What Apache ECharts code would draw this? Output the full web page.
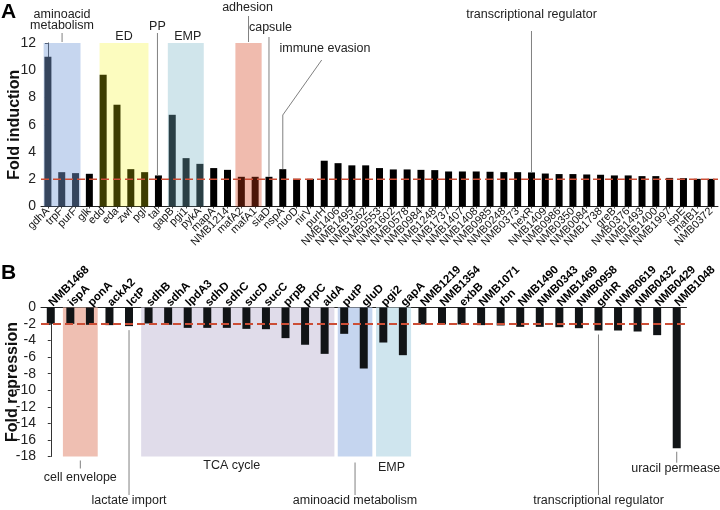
<!DOCTYPE html>
<html><head><meta charset="utf-8">
<script src="https://cdn.jsdelivr.net/npm/echarts@6/dist/echarts.min.js"></script>
<style>html,body{margin:0;padding:0;background:#fff}#c{width:720px;height:510px}</style>
</head><body><div id="c"></div>
<script>
// ---------------- DATA ----------------
const catsA = ['gdhA','trpF','purF','glk','edd','eda','zwf','pgl','tal','gapB','pgi1','pykA','mapA','NMB1214','mafA2','mafA1','siaD','nspA','nuoD','nirV','purH','NMB1406','NMB1495','NMB1362','NMB0553','NMB1602','NMB0578','NMB0984','NMB1248','NMB1737','NMB1407','NMB1408','NMB0985','NMB0248','NMB0373','hexR','NMB1409','NMB0986','NMB0350','NMB0084','NMB1738','greB','NMB0376','NMB1493','NMB1400','NMB1997','ispE','mafB1','NMB0372'];
const valsA = [11.0,2.52,2.45,2.4,9.67,7.47,2.74,2.52,2.28,6.73,3.55,3.13,2.82,2.69,2.18,2.18,2.18,2.74,2.03,2.03,3.36,3.18,3.02,3.02,2.82,2.72,2.72,2.69,2.67,2.57,2.57,2.57,2.55,2.52,2.52,2.5,2.42,2.38,2.38,2.35,2.33,2.28,2.28,2.23,2.23,2.1,2.08,2.03,2.03];
const catsB = ['NMB1468','ispA','ponA','ackA2','lctP','sdhB','sdhA','lpdA3','sdhD','sdhC','sucD','sucC','prpB','prpC','aldA','putP','gluD','pgi2','gapA','NMB1219','NMB1354','exbB','NMB1071','rbn','NMB1490','NMB0343','NMB1469','NMB0958','gdhR','NMB0619','NMB0432','NMB0429','NMB1048'];
const valsB = [-1.97,-1.97,-2.09,-2.13,-2.25,-1.93,-2.09,-2.46,-2.46,-2.46,-2.58,-2.62,-3.7,-4.5,-5.6,-3.18,-7.37,-4.23,-5.76,-2.05,-2.05,-2.05,-2.13,-2.17,-2.34,-2.34,-2.38,-2.5,-2.78,-2.78,-2.9,-3.34,-17.0];
const ticksA = [0,2,4,6,8,10,12];
const ticksB = [-18,-16,-14,-12,-10,-8,-6,-4,-2,0];
const thresholdA = 2;
const thresholdB = -2;
// functional groups: [label, first gene, last gene]
const groupsA = [['aminoacid\nmetabolism','gdhA','purF'],['ED','edd','pgl'],['EMP','gapB','pykA'],['adhesion','mafA2','mafA1']];
const groupsB = [['cell envelope','ispA','ponA'],['TCA cycle','sdhB','aldA'],['aminoacid metabolism','putP','gluD'],['EMP','pgi2','gapA']];
// single-gene callouts: [label, gene]
const calloutsA = [['PP','tal'],['capsule','siaD'],['immune evasion','nspA'],['transcriptional regulator','hexR']];
const calloutsB = [['lactate import','lctP'],['transcriptional regulator','gdhR'],['uracil permease','NMB1048']];

// ---------------- STYLE / LAYOUT ----------------
const FONT = '"Liberation Sans", Arial, Helvetica, sans-serif';
const fillsA = ['rgba(123,160,219,0.43)','rgba(244,244,0,0.25)','rgba(120,180,197,0.35)','rgba(211,60,23,0.35)'];
const padsA = [[0.31,0.36],[0.26,0.28],[0.32,0.28],[0.43,0.47]];
const fillsB = ['#efbfb2','#e0dcea','#c5d5ef','#cfe5ee'];
const padsB = [[0.38,0.40],[0.38,0.50],[0.33,0.44],[0.37,0.42]];
const dashColor = '#cc4e36';
const leadColor = '#808080';

const yMinA = ticksA[0], yMaxA = ticksA[ticksA.length-1];
const yMinB = ticksB[0], yMaxB = ticksB[ticksB.length-1];

const regionsA = groupsA.map((g,i)=>[catsA.indexOf(g[1])-padsA[i][0], catsA.indexOf(g[2])+padsA[i][1]]);
const regionsB = groupsB.map((g,i)=>[catsB.indexOf(g[1])-padsB[i][0], catsB.indexOf(g[2])+padsB[i][1]]);

function regionRenderer(yTop, yBot, fills){
  return function(params, api){
    const p0 = api.coord([api.value(0), yTop]);
    const p1 = api.coord([api.value(1), yBot]);
    return {type:'rect', shape:{x:p0[0], y:p0[1], width:p1[0]-p0[0], height:p1[1]-p0[1]}, style:{fill:fills[params.dataIndex]}};
  };
}

const yAxisCommon = {
  type:'value', splitLine:{show:false},
  axisLine:{show:true, lineStyle:{color:'#333', width:1}},
  axisTick:{show:true, length:3, lineStyle:{color:'#333'}},
  axisLabel:{fontSize:14, color:'#222', margin:5, fontFamily:FONT},
  nameLocation:'middle', nameRotate:90, nameMoveOverlap:false,
  nameTextStyle:{fontSize:16, fontWeight:'bold', color:'#111', fontFamily:FONT}
};

const option = {
  animation:false,
  backgroundColor:'#fff',
  textStyle:{fontFamily:FONT},
  grid:[
    {left:41, top:43, width:677, height:163.5, containLabel:false, outerBoundsMode:'none'},
    {left:41, top:307.5, width:645.5, height:149, containLabel:false, outerBoundsMode:'none'}
  ],
  xAxis:[
    {type:'category', gridIndex:0, data:catsA, position:'bottom',
     axisLine:{show:true, onZero:false, lineStyle:{color:'#222', width:1}},
     axisTick:{show:true, alignWithLabel:true, length:2, lineStyle:{color:'#444'}},
     axisLabel:{interval:0, rotate:45, fontSize:11, color:'#111', margin:3, hideOverlap:false, fontFamily:FONT}},
    {type:'category', gridIndex:1, data:catsB, position:'top',
     axisLine:{show:true, onZero:false, lineStyle:{color:'#222', width:1}},
     axisTick:{show:false},
     axisLabel:{interval:0, rotate:-45, align:'left', verticalAlign:'middle', fontSize:11.5, fontWeight:'bold', color:'#000', margin:3, hideOverlap:false, fontFamily:FONT}},
    {type:'value', gridIndex:0, min:-0.5, max:catsA.length-0.5, show:false},
    {type:'value', gridIndex:1, min:-0.5, max:catsB.length-0.5, show:false}
  ],
  yAxis:[
    Object.assign({}, yAxisCommon, {gridIndex:0, min:yMinA, max:yMaxA, interval:2, name:'Fold induction', nameGap:18}),
    Object.assign({}, yAxisCommon, {gridIndex:1, min:yMinB, max:yMaxB, interval:2, name:'Fold repression', nameGap:20})
  ],
  series:[
    {type:'bar', xAxisIndex:0, yAxisIndex:0, data:valsA, barWidth:7, itemStyle:{color:'#000'}, z:2, silent:true},
    {type:'custom', xAxisIndex:2, yAxisIndex:0, data:regionsA, renderItem:regionRenderer(yMaxA, yMinA, fillsA), z:3, clip:false, silent:true},
    {type:'line', xAxisIndex:2, yAxisIndex:0, data:[[-0.5,thresholdA],[catsA.length-0.5,thresholdA]], symbol:'none', z:5, silent:true,
     lineStyle:{color:dashColor, width:1.5, type:[8,4]}},
    {type:'custom', xAxisIndex:3, yAxisIndex:1, data:regionsB, renderItem:regionRenderer(yMaxB, yMinB, fillsB), z:1, clip:false, silent:true},
    {type:'bar', xAxisIndex:1, yAxisIndex:1, data:valsB, barWidth:8, itemStyle:{color:'#111416'}, z:2, silent:true},
    {type:'line', xAxisIndex:3, yAxisIndex:1, data:[[-0.5,thresholdB],[catsB.length-0.5,thresholdB]], symbol:'none', z:5, silent:true,
     lineStyle:{color:dashColor, width:2, type:[8,4]}}
  ]
};

const chart = echarts.init(document.getElementById('c'), null, {renderer:'canvas'});
chart.setOption(option);

// ---------------- ANNOTATIONS ----------------
const g = [];
function txt(s, x, y, extra){
  g.push(Object.assign({type:'text', x:x, y:y, silent:true, z:10,
    style:{text:s, fontSize:12.5, fontFamily:FONT, fill:'#222', align:'center', verticalAlign:'middle', lineHeight:10.5}}, extra||{}));
}
function ln(x1,y1,x2,y2){
  g.push({type:'line', silent:true, z:10, shape:{x1:x1,y1:y1,x2:x2,y2:y2}, style:{stroke:leadColor, lineWidth:1}});
}
const pA = (xi, v) => chart.convertToPixel({xAxisIndex:0, yAxisIndex:0}, [xi, v]);
const pB = (xi, v) => chart.convertToPixel({xAxisIndex:1, yAxisIndex:1}, [xi, v]);
const rA = (i) => chart.convertToPixel({xAxisIndex:2, yAxisIndex:0}, [(regionsA[i][0]+regionsA[i][1])/2, yMaxA]);
const rB = (i) => chart.convertToPixel({xAxisIndex:3, yAxisIndex:1}, [(regionsB[i][0]+regionsB[i][1])/2, yMinB]);

// Panel A group labels
{ const c = rA(0); txt(groupsA[0][0], c[0], 20); ln(c[0], 33, c[0], c[1]-1); }
{ const c = rA(1); txt(groupsA[1][0], c[0], 36.7); }
{ const c = rA(2); txt(groupsA[2][0], c[0]+2, 37); }
{ const c = rA(3); txt(groupsA[3][0], c[0]-1, 7.3); ln(c[0], 16, c[0], c[1]-1); }
// Panel A callouts
{ const i = catsA.indexOf(calloutsA[0][1]); const p = pA(i, valsA[i]); txt(calloutsA[0][0], p[0]-1, 27); ln(p[0]-1, 33, p[0]-1, p[1]); }
{ const i = catsA.indexOf(calloutsA[1][1]); const p = pA(i, valsA[i]); txt(calloutsA[1][0], p[0]+1.5, 27.3); ln(p[0], 37, p[0], p[1]); }
{ const i = catsA.indexOf(calloutsA[2][1]); const p = pA(i, valsA[i]); txt(calloutsA[2][0], 325, 49);
  g.push({type:'polyline', silent:true, z:10, shape:{points:[[321.7,60],[p[0],115],[p[0],p[1]]]}, style:{stroke:leadColor, lineWidth:1, fill:null}}); }
{ const i = catsA.indexOf(calloutsA[3][1]); const p = pA(i, valsA[i]); txt(calloutsA[3][0], p[0], 15); ln(p[0], 31, p[0], p[1]); }

// Panel B group labels
{ const c = rB(0); txt(groupsB[0][0], c[0], 477.3); ln(c[0], c[1]+4, c[0], c[1]+12); }
{ const c = rB(1); txt(groupsB[1][0], c[0]-6, 465.6); }
{ const c = rB(2); txt(groupsB[2][0], c[0], 500.6); ln(c[0], c[1]+6, c[0], 495); }
{ const c = rB(3); txt(groupsB[3][0], c[0]-2, 467.5); }
// Panel B callouts
{ const i = catsB.indexOf(calloutsB[0][1]); const p = pB(i, valsB[i]); txt(calloutsB[0][0], p[0], 500.6); ln(p[0], p[1]+4, p[0], 495); }
{ const i = catsB.indexOf(calloutsB[1][1]); const p = pB(i, valsB[i]); txt(calloutsB[1][0], p[0], 500.6); ln(p[0], p[1]+4, p[0], 495); }
{ const i = catsB.indexOf(calloutsB[2][1]); const p = pB(i, valsB[i]); txt(calloutsB[2][0], p[0]-1, 469); ln(p[0], p[1]+3.5, p[0], 462.7); }

// Panel letters
g.push({type:'text', x:1, y:2, silent:true, z:10, style:{text:'A', fontSize:21, fontWeight:'bold', fontFamily:FONT, fill:'#000', align:'left', verticalAlign:'top'}});
g.push({type:'text', x:1, y:263, silent:true, z:10, style:{text:'B', fontSize:21, fontWeight:'bold', fontFamily:FONT, fill:'#000', align:'left', verticalAlign:'top'}});

chart.setOption({graphic:g});
</script>
</body></html>
